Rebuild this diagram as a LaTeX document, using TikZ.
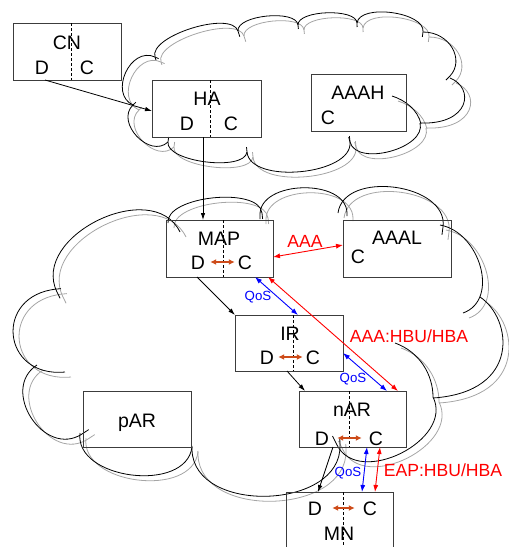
\documentclass[tikz,border=0pt]{standalone}
\usepackage{fontspec}
\setmainfont{Liberation Sans}
\usetikzlibrary{calc,arrows.meta}
\definecolor{orgc}{RGB}{205,75,25}
\definecolor{shadowc}{RGB}{165,165,165}
\definecolor{boxc}{RGB}{60,60,60}
% one cloud bump: head length, arc from A to B bulging outward, tail length
\newcommand\cb[5]{($(#1)!#4!-90:(#2)$) -- (#1) .. controls ($(#1)!#3!90:(#2)$) and ($(#2)!#3!-90:(#1)$) .. (#2) -- ($(#2)!#5!90:(#1)$)}
\newcommand\cloudA{%
 \draw \cb{155,57}{238,31}{22pt}{3pt}{6pt};
 \draw \cb{238,31}{298,25}{16pt}{0pt}{4pt};
 \draw \cb{298,25}{357,23}{15pt}{0pt}{4pt};
 \draw \cb{357,23}{423,32}{20pt}{0pt}{5pt};
 \draw (423,32) .. controls (450,32) and (465,60) .. (450,76) -- (446,80);
 \draw (450,78) .. controls (475,88) and (470,125) .. (420,123);
 \draw (392,96) .. controls (405,100) and (418,110) .. (421,124);
 \draw \cb{420,123}{350,142}{26pt}{0pt}{5pt};
 \draw \cb{350,142}{247,152}{33pt}{6pt}{5pt};
 \draw \cb{247,152}{168,142}{20pt}{0pt}{5pt};
 \draw \cb{168,142}{133,105}{25pt}{0pt}{4pt};
 \draw \cb{133,105}{155,57}{27pt}{0pt}{4pt};
}
\newcommand\cloudB{%
 \draw \cb{57,292}{180,232}{62pt}{7pt}{0pt};
 \draw \cb{168,223}{262,213}{27pt}{0pt}{6pt};
 \draw \cb{260,215}{347,213}{35pt}{4pt}{3pt};
 \draw \cb{338,213}{443,227}{44pt}{0pt}{8pt};
 \draw (440,225) .. controls (480,232) and (500,300) .. (463,313);
 \draw (480,297) .. controls (512,318) and (522,392) .. (433,398);
 \draw (395,343) .. controls (420,352) and (433,375) .. (433,397);
 \draw \cb{433,397}{337,445}{48pt}{0pt}{10pt};
 \draw \cb{340,445}{192,450}{65pt}{6pt}{4pt};
 \draw \cb{192,447}{80,433}{47pt}{0pt}{0pt};
 \draw \cb{82,434}{37,365}{45pt}{8pt}{0pt};
 \draw \cb{65,372}{57,289}{64pt}{0pt}{4pt};
}
\begin{document}
\begin{tikzpicture}[x=1pt,y=-1pt,
  boxn/.style={draw=boxc, line width=0.8pt, inner sep=0pt, outer sep=0pt},
  lbl/.style={font=\fontsize{19.5pt}{22pt}\selectfont, inner sep=0pt, text height=14pt, text depth=0pt},
  rlbl/.style={text=red, font=\fontsize{17.6pt}{20pt}\selectfont, inner sep=0pt, text height=12.6pt, text depth=0pt},
  qlbl/.style={text=blue, font=\fontsize{13.3pt}{15pt}\selectfont, inner sep=0pt, text height=9.5pt, text depth=0pt},
  divider/.style={draw=black, line width=0.7pt, dash pattern=on 3pt off 2pt},
  blk/.style={draw=black, line width=0.8pt, -{Latex[length=7pt,width=4.5pt]}},
  redarr/.style={draw=red, line width=0.9pt, {Latex[length=7pt,width=5pt]}-{Latex[length=7pt,width=5pt]}},
  bluarr/.style={draw=blue, line width=0.9pt, {Latex[length=7pt,width=5pt]}-{Latex[length=7pt,width=5pt]}},
  org/.style={draw=orgc, line width=1.3pt, {Latex[length=6pt,width=6pt]}-{Latex[length=6pt,width=6pt]}}
]
\path[use as bounding box] (0,0) rectangle (509,547);
\clip (0,0) rectangle (509,547);

% clouds: grey shadow, then black outline
\begin{scope}[transform canvas={xshift=6pt,yshift=-5pt}, draw=shadowc, line width=0.8pt]
 \cloudA
 \cloudB
\end{scope}
\begin{scope}[draw=black, line width=0.8pt]
 \cloudA
 \cloudB
\end{scope}

% boxes
\node[boxn, minimum width=108pt, minimum height=57pt] (cn) at (67,51.5) {};
\node[boxn, minimum width=109pt, minimum height=57pt] (ha) at (206.5,108.5) {};
\node[boxn, minimum width=95pt, minimum height=57pt] (aaah) at (358.5,102.5) {};
\node[boxn, minimum width=107pt, minimum height=57pt] (map) at (219.5,248.5) {};
\node[boxn, minimum width=108pt, minimum height=57pt] (aaal) at (397,248.5) {};
\node[boxn, minimum width=108pt, minimum height=56pt] (ir) at (289,343) {};
\node[boxn, minimum width=108pt, minimum height=56pt] (par) at (137,419) {};
\node[boxn, minimum width=107pt, minimum height=56pt] (nar) at (352.5,419) {};
\node[boxn, minimum width=107pt, minimum height=57pt] (mn) at (339.5,520.5) {};

% dashed dividers
\draw[divider] ($(cn.north)+(4,0)$) -- ($(cn.south)+(4,0)$);
\draw[divider] ($(ha.north)+(3.5,0)$) -- ($(ha.south)+(3.5,0)$);
\draw[divider] ($(map.north)+(3.5,0)$) -- ($(map.south)+(3.5,0)$);
\draw[divider] ($(ir.north)+(4,0)$) -- ($(ir.south)+(4,0)$);
\draw[divider] ($(nar.north)+(-3.5,0)$) -- ($(nar.south)+(-3.5,0)$);
\draw[divider] ($(mn.north)+(3.5,0)$) -- ($(mn.south)+(3.5,0)$);

% box texts
\node[lbl] (cnL) at (67,42) {CN};
\node[lbl] (cnD) at (42,67) {D};
\node[lbl] (cnC) at (87,67) {C};
\node[lbl] (haL) at (207,98) {HA};
\node[lbl] (haD) at (187,123) {D};
\node[lbl] (haC) at (231,123) {C};
\node[lbl] (aaahL) at (358,92) {AAAH};
\node[lbl] (aaahC) at (328,117) {C};
\node[lbl] (mapL) at (219,238) {MAP};
\node[lbl] (mapD) at (198,262) {D};
\node[lbl] (mapC) at (245,262) {C};
\node[lbl] (aaalL) at (397,237) {AAAL};
\node[lbl] (aaalC) at (358,256) {C};
\node[lbl] (irL) at (290,333) {IR};
\node[lbl] (irD) at (267,357) {D};
\node[lbl] (irC) at (313,357) {C};
\node[lbl] (parL) at (137,420) {pAR};
\node[lbl] (narL) at (352,409) {nAR};
\node[lbl] (narD) at (322,438) {D};
\node[lbl] (narC) at (376,438) {C};
\node[lbl] (mnD) at (315,508) {D};
\node[lbl] (mnC) at (370,508) {C};
\node[lbl] (mnL) at (339,533) {MN};

% internal D<->C arrows
\draw[org, shorten <=5pt, shorten >=3pt] (mapD) -- (mapC);
\draw[org, shorten <=4pt, shorten >=3pt] (irD) -- (irC);
\draw[org, shorten <=8pt, shorten >=7pt] (narD) -- (narC);
\draw[org, shorten <=10pt, shorten >=8pt] (mnD) -- (mnC);

% black data-path arrows
\draw[blk] ($(cn.south)+(-22,0)$) -- ($(ha.west)+(0,2.5)$);
\draw[blk] ($(ha.south)+(-3.5,0)$) -- ($(map.north)+(-16.5,0)$);
\draw[blk] ($(map.south)+(-22.5,0)$) -- (ir.north west);
\draw[blk] ($(ir.south)+(-2,0)$) -- ($(nar.north)+(-47.5,0)$);
\draw[blk] ($(nar.south)+(-19.5,0)$) -- ($(mn.north)+(-21.5,0)$);

% red signalling arrows
\draw[redarr] ($(map.east)+(0,8.5)$) -- ($(aaal.west)+(0,-3.5)$);
\draw[redarr] ($(map.south)+(48.5,0)$) -- ($(nar.north)+(45.5,0)$);
\draw[redarr] ($(nar.south)+(27.5,0)$) -- ($(mn.north)+(35.5,0)$);

% blue QoS arrows
\draw[bluarr] ($(map.south)+(35.5,0)$) -- ($(ir.north)+(9,0)$);
\draw[bluarr] ($(ir.east)+(0,10)$) -- ($(nar.north)+(34.5,0)$);
\draw[bluarr] ($(nar.south)+(14.5,0)$) -- ($(mn.north)+(22.5,0)$);

% connector labels
\node[rlbl] (aaaT) at (305,241) {AAA};
\node[rlbl] (hbuT) at (409,336) {AAA:HBU/HBA};
\node[rlbl] (eapT) at (443,470) {EAP:HBU/HBA};
\node[qlbl] (q1) at (258,296) {QoS};
\node[qlbl] (q2) at (353,378) {QoS};
\node[qlbl] (q3) at (348,472) {QoS};
\end{tikzpicture}
\end{document}
